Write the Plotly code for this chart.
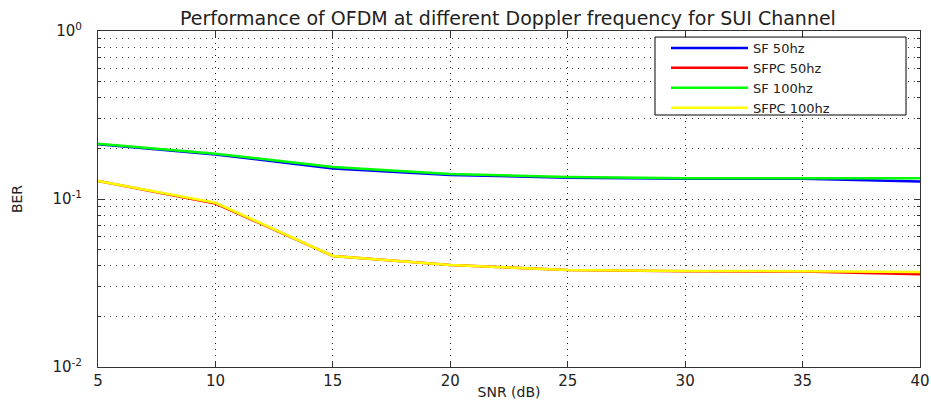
import plotly.graph_objects as go

snr = [5, 10, 15, 20, 25, 30, 35, 40]
sf_50 = [0.212, 0.184, 0.152, 0.139, 0.134, 0.132, 0.132, 0.127]
sfpc_50 = [0.128, 0.094, 0.0458, 0.0405, 0.0378, 0.0372, 0.0370, 0.0357]
sf_100 = [0.213, 0.186, 0.155, 0.141, 0.135, 0.133, 0.133, 0.133]
sfpc_100 = [0.128, 0.095, 0.0458, 0.0405, 0.0378, 0.0373, 0.0372, 0.0368]

series = [
    ("SF 50hz", sf_50, "#0000ff"),
    ("SFPC 50hz", sfpc_50, "#ff0000"),
    ("SF 100hz", sf_100, "#00ff00"),
    ("SFPC 100hz", sfpc_100, "#ffff00"),
]

x_ticks = [5, 10, 15, 20, 25, 30, 35, 40]
y_ticks = [0.01, 0.1, 1]
y_tick_text = ["10<sup>-2</sup>", "10<sup>-1</sup>", "10<sup>0</sup>"]

FONT = "DejaVu Sans, Liberation Sans, sans-serif"

fig = go.Figure()
for name, vals, color in series:
    fig.add_trace(go.Scatter(x=snr, y=vals, mode="lines", name=name,
                             line=dict(color=color, width=2.5)))

# legend frame (MATLAB-style box)
fig.add_shape(type="rect", xref="paper", yref="paper",
              x0=0.6776, x1=0.983, y0=0.75, y1=0.982,
              line=dict(color="#000", width=1), fillcolor="white", layer="above")

fig.update_layout(
    width=931, height=400,
    margin=dict(l=98, r=11, t=31, b=33),
    paper_bgcolor="white", plot_bgcolor="white",
    font=dict(family=FONT, size=14, color="#222"),
    title=dict(text="Performance of OFDM at different Doppler frequency for SUI Channel",
               x=0.5456, xanchor="center", y=0.955, yanchor="middle",
               font=dict(size=19, color="#222")),
    showlegend=True,
    legend=dict(x=0.691, xanchor="left", y=0.994, yanchor="top",
                bgcolor="rgba(0,0,0,0)", borderwidth=0,
                font=dict(size=13, color="#222"), itemwidth=77,
                tracegroupgap=0),
)

fig.update_xaxes(
    range=[5, 40], tickvals=x_ticks, ticks="inside", ticklen=6, tickcolor="#333",
    showline=True, linecolor="#333", linewidth=1, mirror="ticks",
    showgrid=True, gridcolor="#222", griddash="1px,5px", gridwidth=1,
    zeroline=False, tickfont=dict(size=15), automargin=False,
    title=dict(text="SNR (dB)", font=dict(size=14), standoff=0),
)
fig.update_yaxes(
    type="log", range=[-2, 0], tickvals=y_ticks, ticktext=y_tick_text,
    ticks="inside", ticklen=6, tickcolor="#333", ticklabelstandoff=12,
    showline=True, linecolor="#333", linewidth=1, mirror="ticks",
    showgrid=True, gridcolor="#222", griddash="1px,5px", gridwidth=1,
    minor=dict(dtick="D1", ticks="inside", ticklen=3, tickcolor="#333",
               showgrid=True, gridcolor="#444", griddash="1px,5px", gridwidth=1),
    zeroline=False, tickfont=dict(size=15), automargin=False,
    title=dict(text="BER", font=dict(size=14), standoff=26),
)

fig.write_html("out.html", config={"displayModeBar": False},
               post_script="document.body.style.margin='0';")
